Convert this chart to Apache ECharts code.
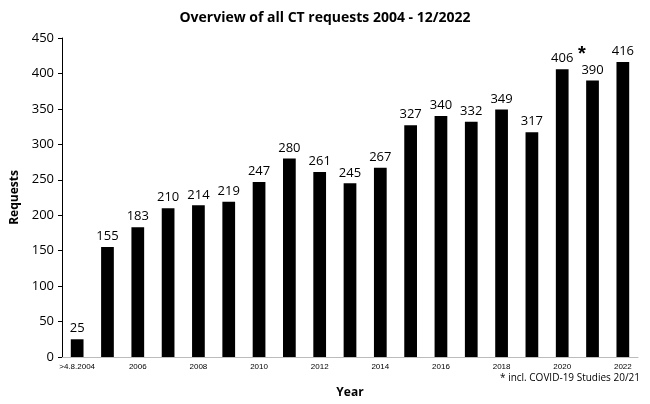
<!DOCTYPE html>
<html><head><meta charset="utf-8">
<script src="https://cdn.jsdelivr.net/npm/echarts@6/dist/echarts.min.js"></script>
<style>html,body{margin:0;padding:0;background:#fff}#c{width:650px;height:404px}</style>
</head><body><div id="c"></div>
<script>
const years = ['2004','2005','2006','2007','2008','2009','2010','2011','2012','2013','2014','2015','2016','2017','2018','2019','2020','2021','2022'];
const requests = [25,155,183,210,214,219,247,280,261,245,267,327,340,332,349,317,406,390,416];
const yTicks = {min:0, max:450, interval:50};
const chart = echarts.init(document.getElementById('c'));
chart.setOption({
  animation:false,
  title:{text:'Overview of all CT requests 2004 - 12/2022',left:'center',top:6,
    textStyle:{fontSize:14,fontWeight:'bold',color:'#000',fontFamily:'Open Sans'}},
  grid:{left:62,right:12,top:38,bottom:46},
  xAxis:{type:'category',data:years,name:'Year',nameLocation:'middle',nameGap:30,
    nameTextStyle:{fontWeight:'bold',fontSize:12,color:'#000',fontFamily:'Open Sans'},
    axisLine:{lineStyle:{color:'#bbb'}},axisTick:{show:false},
    axisLabel:{interval:1,fontSize:8,color:'#000',margin:6,
      formatter:(v,i)=>i===0?'>4.8.2004':v}},
  yAxis:{type:'value',min:yTicks.min,max:yTicks.max,interval:yTicks.interval,name:'Requests',
    nameLocation:'middle',nameGap:40,
    nameTextStyle:{fontWeight:'bold',fontSize:12,color:'#000',fontFamily:'Open Sans'},
    axisLine:{show:true,lineStyle:{color:'#000'}},axisTick:{show:true,length:4,lineStyle:{color:'#000'}},
    splitLine:{show:false},axisLabel:{fontSize:13,color:'#000',fontFamily:'Open Sans'}},
  graphic:[
    {type:'text',left:578,top:44,style:{text:'*',fontSize:20,fontWeight:'bold',fill:'#000'}},
    {type:'text',right:10,top:373,style:{text:'* incl. COVID-19 Studies 20/21',fontSize:10,fill:'#000',fontFamily:'Open Sans'}}
  ],
  series:[{type:'bar',data:requests,barWidth:'42%',itemStyle:{color:'#000'},
    label:{show:true,position:'top',fontSize:13,color:'#000',fontFamily:'Open Sans',distance:4}}]
});
</script></body></html>
